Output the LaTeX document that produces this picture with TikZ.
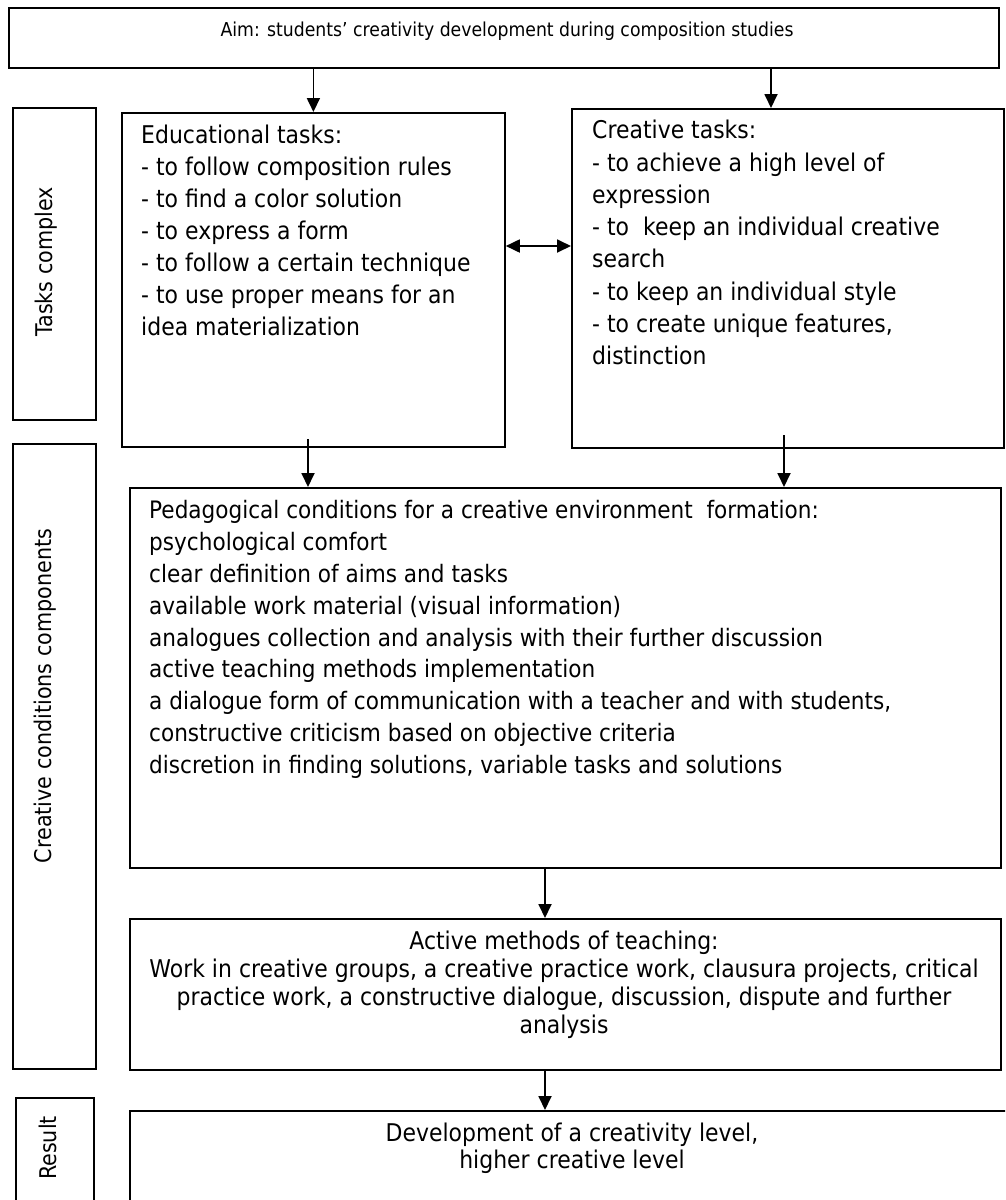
\documentclass[tikz,border=0pt]{standalone}
\usepackage{fontspec}
\setmainfont{DejaVu Sans}[FakeStretch=0.9]
\usetikzlibrary{arrows.meta,positioning}

\begin{document}
\begin{tikzpicture}[x=1pt, y=-1pt,
    box/.style={draw, line width=1.8pt, inner sep=0pt, anchor=north west},
    txt/.style={inner sep=0pt, align=left, font=\fontsize{24.4}{32}\selectfont},
    lbl/.style={inner sep=0pt, rotate=90, font=\fontsize{23}{28}\selectfont},
    arr/.style={line width=1.8pt, -{Triangle[length=14pt, width=13pt]}},
    dbl/.style={line width=1.8pt, {Triangle[length=14pt, width=13pt]}-{Triangle[length=14pt, width=13pt]}}
    ]
    \useasboundingbox (0,0) rectangle (1005,1200);
    \clip (0,0) rectangle (1005,1200);

    % Boxes
    \node[box, minimum width=990pt, minimum height=60pt] (aim) at (8,7) {};
    \node[box, minimum width=83pt, minimum height=312pt] (tc) at (12,107) {};
    \node[box, minimum width=383pt, minimum height=334pt] (edu) at (121,112) {};
    \node[box, minimum width=432pt, minimum height=339pt] (cre) at (571,108) {};
    \node[box, minimum width=83pt, minimum height=625pt] (ccc) at (12,443) {};
    \node[box, minimum width=871pt, minimum height=380pt] (ped) at (129,487) {};
    \node[box, minimum width=871pt, minimum height=151pt] (act) at (129,918) {};
    \node[box, minimum width=78pt, minimum height=150pt] (rl) at (15,1097) {};
    \node[box, minimum width=886pt, minimum height=150pt] (res) at (129,1110) {};

    % Side labels
    \node[lbl] (tclbl) at (46,262) {Tasks complex};
    \node[lbl] (ccclbl) at (45,696) {Creative conditions components};
    \node[lbl] (rlbl) at (48,1148) {Result};

    % Texts
    \node[inner sep=0pt, font=\fontsize{19.2}{24}\selectfont] (aimtxt) at (507,31)
        {Aim: students’ creativity development during composition studies};
    \node[txt, anchor=north west] (edutxt) at (141,125)
        {Educational tasks:\\
         - to follow composition rules\\
         - to find a color solution\\
         - to express a form\\
         - to follow a certain technique\\
         - to use proper means for an\\
         idea materialization};
    \node[txt, anchor=north west, font=\fontsize{24.4}{32.3}\selectfont] (cretxt) at (592,120)
        {Creative tasks:\\
         - to achieve a high level of\\
         expression\\
         - to\ \ keep an individual creative\\
         search\\
         - to keep an individual style\\
         - to create unique features,\\
         distinction};
    \node[txt, anchor=north west, font=\fontsize{24}{31.9}\selectfont] (pedtxt) at (149,500)
        {Pedagogical conditions for a creative environment\ \ formation:\\
         psychological comfort\\
         clear definition of aims and tasks\\
         available work material (visual information)\\
         analogues collection and analysis with their further discussion\\
         active teaching methods implementation\\
         a dialogue form of communication with a teacher and with students,\\
         constructive criticism based on objective criteria\\
         discretion in finding solutions, variable tasks and solutions};
    \node[txt, anchor=north, align=center, font=\fontsize{24.4}{28}\selectfont] (acttxt) at (564,931)
        {Active methods of teaching:\\
         Work in creative groups, a creative practice work, clausura projects, critical\\
         practice work, a constructive dialogue, discussion, dispute and further\\
         analysis};
    \node[txt, anchor=north, align=center, font=\fontsize{24.4}{27}\selectfont] (restxt) at (572,1123)
        {Development of a creativity level,\\
         higher creative level};

    % Connectors
    \coordinate (c1) at (771,0);
    \coordinate (c2) at (536,246);
    \coordinate (c3) at (308,439);
    \coordinate (c4) at (784,435);
    \coordinate (c5) at (545,0);
    \draw[arr] (aim.south -| edu.north) -- (edu.north);
    \draw[arr] (aim.south -| c1) -- (cre.north -| c1);
    \draw[dbl] (edu.east |- c2) -- (cre.west |- c2);
    \draw[arr] (c3) -- (c3 |- ped.north);
    \draw[arr] (c4) -- (c4 |- ped.north);
    \draw[arr] (ped.south -| c5) -- (act.north -| c5);
    \draw[arr] (act.south -| c5) -- (res.north -| c5);
\end{tikzpicture}
\end{document}
